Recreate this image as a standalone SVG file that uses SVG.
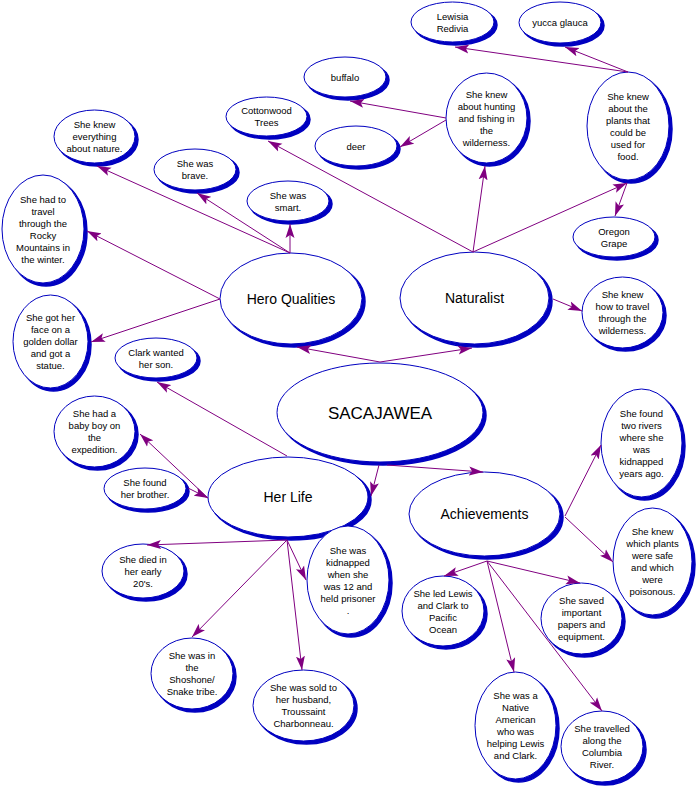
<svg xmlns="http://www.w3.org/2000/svg" width="700" height="787" viewBox="0 0 700 787">
<defs>
<style>
.sh{fill:#0000c0;stroke:#0000c0;stroke-width:1.5}
.nd{fill:#fff;stroke:#0000c0;stroke-width:1}
text{font-family:"Liberation Sans",Arial,sans-serif;font-size:9.5px;text-anchor:middle;fill:#000}
.b{font-size:14px}
.m{font-size:17px}
.c line{stroke:#800080;stroke-width:1;marker-end:url(#ah)}
</style>
<marker id="ah" markerUnits="userSpaceOnUse" markerWidth="14" markerHeight="10" viewBox="0 0 14 10" refX="14" refY="5" orient="auto">
<path d="M14,5 L0,0.5 L3,5 L0,9.5 Z" fill="#800080"/>
</marker>
</defs>
<rect width="700" height="787" fill="#fff"/>

<g id="n-nature"><ellipse class="sh" cx="97.5" cy="139.5" rx="40.5" ry="26.5"/><ellipse class="nd" cx="94.5" cy="136.5" rx="40.5" ry="26.5"/><text x="94.5" y="128">She knew</text><text x="94.5" y="140">everything</text><text x="94.5" y="152">about nature.</text></g>
<g id="n-brave"><ellipse class="sh" cx="198" cy="172.5" rx="41" ry="20.5"/><ellipse class="nd" cx="195" cy="169.5" rx="41" ry="20.5"/><text x="195" y="167">She was</text><text x="195" y="179">brave.</text></g>
<g id="n-smart"><ellipse class="sh" cx="291" cy="204" rx="41" ry="20"/><ellipse class="nd" cx="288" cy="201" rx="41" ry="20"/><text x="288" y="198.5">She was</text><text x="288" y="210.5">smart.</text></g>
<g id="n-cottonwood"><ellipse class="sh" cx="269.5" cy="119.5" rx="40.5" ry="19.5"/><ellipse class="nd" cx="266.5" cy="116.5" rx="40.5" ry="19.5"/><text x="266.5" y="114">Cottonwood</text><text x="266.5" y="126">Trees</text></g>
<g id="n-buffalo"><ellipse class="sh" cx="348" cy="80" rx="41" ry="20"/><ellipse class="nd" cx="345" cy="77" rx="41" ry="20"/><text x="345" y="80.5">buffalo</text></g>
<g id="n-deer"><ellipse class="sh" cx="359" cy="149" rx="41" ry="20"/><ellipse class="nd" cx="356" cy="146" rx="41" ry="20"/><text x="356" y="149.5">deer</text></g>
<g id="n-rocky"><ellipse class="sh" cx="46" cy="232" rx="41" ry="54"/><ellipse class="nd" cx="43" cy="229" rx="41" ry="54"/><text x="43" y="202.5">She had to</text><text x="43" y="214.5">travel</text><text x="43" y="226.5">through the</text><text x="43" y="238.5">Rocky</text><text x="43" y="250.5">Mountains in</text><text x="43" y="262.5">the winter.</text></g>
<g id="n-lewisia"><ellipse class="sh" cx="455.5" cy="25" rx="41.5" ry="20"/><ellipse class="nd" cx="452.5" cy="22" rx="41.5" ry="20"/><text x="452.5" y="19.5">Lewisia</text><text x="452.5" y="31.5">Redivia</text></g>
<g id="n-yucca"><ellipse class="sh" cx="563" cy="25.5" rx="41" ry="20.5"/><ellipse class="nd" cx="560" cy="22.5" rx="41" ry="20.5"/><text x="560" y="26">yucca glauca</text></g>
<g id="n-hunting"><ellipse class="sh" cx="489.5" cy="121" rx="40.5" ry="45"/><ellipse class="nd" cx="486.5" cy="118" rx="40.5" ry="45"/><text x="486.5" y="97.5">She knew</text><text x="486.5" y="109.5">about hunting</text><text x="486.5" y="121.5">and fishing in</text><text x="486.5" y="133.5">the</text><text x="486.5" y="145.5">wilderness.</text></g>
<g id="n-plants"><ellipse class="sh" cx="631" cy="129" rx="41" ry="54"/><ellipse class="nd" cx="628" cy="126" rx="41" ry="54"/><text x="628" y="99.5">She knew</text><text x="628" y="111.5">about the</text><text x="628" y="123.5">plants that</text><text x="628" y="135.5">could be</text><text x="628" y="147.5">used for</text><text x="628" y="159.5">food.</text></g>
<g id="n-oregon"><ellipse class="sh" cx="617" cy="240" rx="41" ry="20"/><ellipse class="nd" cx="614" cy="237" rx="41" ry="20"/><text x="614" y="234.5">Oregon</text><text x="614" y="246.5">Grape</text></g>
<g id="n-hero"><ellipse class="sh" cx="294" cy="301.5" rx="71" ry="45.5"/><ellipse class="nd" cx="291" cy="298.5" rx="71" ry="45.5"/><text class="b" x="291" y="303.5">Hero Qualities</text></g>
<g id="n-naturalist"><ellipse class="sh" cx="477.5" cy="301" rx="74.5" ry="46"/><ellipse class="nd" cx="474.5" cy="298" rx="74.5" ry="46"/><text class="b" x="474.5" y="303">Naturalist</text></g>
<g id="n-howtravel"><ellipse class="sh" cx="625.5" cy="315.5" rx="40.5" ry="35.5"/><ellipse class="nd" cx="622.5" cy="312.5" rx="40.5" ry="35.5"/><text x="622.5" y="298">She knew</text><text x="622.5" y="310">how to travel</text><text x="622.5" y="322">through the</text><text x="622.5" y="334">wilderness.</text></g>
<g id="n-golden"><ellipse class="sh" cx="53.5" cy="344.5" rx="37.5" ry="46.5"/><ellipse class="nd" cx="50.5" cy="341.5" rx="37.5" ry="46.5"/><text x="50.5" y="321">She got her</text><text x="50.5" y="333">face on a</text><text x="50.5" y="345">golden dollar</text><text x="50.5" y="357">and got a</text><text x="50.5" y="369">statue.</text></g>
<g id="n-clark"><ellipse class="sh" cx="159" cy="361" rx="41" ry="20"/><ellipse class="nd" cx="156" cy="358" rx="41" ry="20"/><text x="156" y="355.5">Clark wanted</text><text x="156" y="367.5">her son.</text></g>
<g id="n-sacajawea"><ellipse class="sh" cx="383" cy="415.5" rx="103" ry="49.5"/><ellipse class="nd" cx="380" cy="412.5" rx="103" ry="49.5"/><text class="m" x="380" y="418.5">SACAJAWEA</text></g>
<g id="n-baby"><ellipse class="sh" cx="97.5" cy="434.5" rx="40.5" ry="35.5"/><ellipse class="nd" cx="94.5" cy="431.5" rx="40.5" ry="35.5"/><text x="94.5" y="417">She had a</text><text x="94.5" y="429">baby boy on</text><text x="94.5" y="441">the</text><text x="94.5" y="453">expedition.</text></g>
<g id="n-brother"><ellipse class="sh" cx="148" cy="491.5" rx="41" ry="20.5"/><ellipse class="nd" cx="145" cy="488.5" rx="41" ry="20.5"/><text x="145" y="486">She found</text><text x="145" y="498">her brother.</text></g>
<g id="n-herlife"><ellipse class="sh" cx="291" cy="500" rx="80" ry="40"/><ellipse class="nd" cx="288" cy="497" rx="80" ry="40"/><text class="b" x="288" y="502">Her Life</text></g>
<g id="n-achievements"><ellipse class="sh" cx="487.5" cy="517" rx="75.5" ry="42"/><ellipse class="nd" cx="484.5" cy="514" rx="75.5" ry="42"/><text class="b" x="484.5" y="519">Achievements</text></g>
<g id="n-tworivers"><ellipse class="sh" cx="644.5" cy="446" rx="40.5" ry="54"/><ellipse class="nd" cx="641.5" cy="443" rx="40.5" ry="54"/><text x="641.5" y="416.5">She found</text><text x="641.5" y="428.5">two rivers</text><text x="641.5" y="440.5">where she</text><text x="641.5" y="452.5">was</text><text x="641.5" y="464.5">kidnapped</text><text x="641.5" y="476.5">years ago.</text></g>
<g id="n-whichplants"><ellipse class="sh" cx="655.5" cy="564.5" rx="39.5" ry="53.5"/><ellipse class="nd" cx="652.5" cy="561.5" rx="39.5" ry="53.5"/><text x="652.5" y="535">She knew</text><text x="652.5" y="547">which plants</text><text x="652.5" y="559">were safe</text><text x="652.5" y="571">and which</text><text x="652.5" y="583">were</text><text x="652.5" y="595">poisonous.</text></g>
<g id="n-died"><ellipse class="sh" cx="146" cy="574" rx="41" ry="27"/><ellipse class="nd" cx="143" cy="571" rx="41" ry="27"/><text x="143" y="562.5">She died in</text><text x="143" y="574.5">her early</text><text x="143" y="586.5">20's.</text></g>
<g id="n-kidnapped"><ellipse class="sh" cx="351" cy="583" rx="41" ry="54"/><ellipse class="nd" cx="348" cy="580" rx="41" ry="54"/><text x="348" y="553.5">She was</text><text x="348" y="565.5">kidnapped</text><text x="348" y="577.5">when she</text><text x="348" y="589.5">was 12 and</text><text x="348" y="601.5">held prisoner</text><text x="348" y="613.5">.</text></g>
<g id="n-shoshone"><ellipse class="sh" cx="195" cy="676.5" rx="41" ry="35.5"/><ellipse class="nd" cx="192" cy="673.5" rx="41" ry="35.5"/><text x="192" y="659">She was in</text><text x="192" y="671">the</text><text x="192" y="683">Shoshone/</text><text x="192" y="695">Snake tribe.</text></g>
<g id="n-sold"><ellipse class="sh" cx="306.5" cy="708.5" rx="50.5" ry="35.5"/><ellipse class="nd" cx="303.5" cy="705.5" rx="50.5" ry="35.5"/><text x="303.5" y="691">She was sold to</text><text x="303.5" y="703">her husband,</text><text x="303.5" y="715">Troussaint</text><text x="303.5" y="727">Charbonneau.</text></g>
<g id="n-led"><ellipse class="sh" cx="446" cy="614" rx="41" ry="35"/><ellipse class="nd" cx="443" cy="611" rx="41" ry="35"/><text x="443" y="596.5">She led Lewis</text><text x="443" y="608.5">and Clark to</text><text x="443" y="620.5">Pacific</text><text x="443" y="632.5">Ocean</text></g>
<g id="n-saved"><ellipse class="sh" cx="584.5" cy="621.5" rx="40.5" ry="35.5"/><ellipse class="nd" cx="581.5" cy="618.5" rx="40.5" ry="35.5"/><text x="581.5" y="604">She saved</text><text x="581.5" y="616">important</text><text x="581.5" y="628">papers and</text><text x="581.5" y="640">equipment.</text></g>
<g id="n-native"><ellipse class="sh" cx="518.5" cy="728.5" rx="40.5" ry="53.5"/><ellipse class="nd" cx="515.5" cy="725.5" rx="40.5" ry="53.5"/><text x="515.5" y="698.5">She was a</text><text x="515.5" y="710.5">Native</text><text x="515.5" y="722.5">American</text><text x="515.5" y="734.5">who was</text><text x="515.5" y="746.5">helping Lewis</text><text x="515.5" y="758.5">and Clark.</text></g>
<g id="n-columbia"><ellipse class="sh" cx="605" cy="749.5" rx="41" ry="35.5"/><ellipse class="nd" cx="602" cy="746.5" rx="41" ry="35.5"/><text x="602" y="732">She travelled</text><text x="602" y="744">along the</text><text x="602" y="756">Columbia</text><text x="602" y="768">River.</text></g>

<g id="connectors" class="c">
<line x1="290" y1="253" x2="290" y2="224"/>
<line x1="290" y1="253" x2="197" y2="193"/>
<line x1="290" y1="253" x2="97" y2="166"/>
<line x1="220" y1="299" x2="87" y2="231"/>
<line x1="220" y1="299" x2="91" y2="342"/>
<line x1="473" y1="252" x2="268" y2="141"/>
<line x1="473" y1="252" x2="485" y2="166"/>
<line x1="473" y1="252" x2="627" y2="183"/>
<line x1="446" y1="118" x2="350" y2="101"/>
<line x1="446" y1="120" x2="400" y2="147"/>
<line x1="628" y1="72" x2="455" y2="47"/>
<line x1="628" y1="72" x2="565" y2="47"/>
<line x1="627" y1="183" x2="615" y2="216"/>
<line x1="553" y1="299" x2="582" y2="311"/>
<line x1="380" y1="362" x2="297" y2="347"/>
<line x1="380" y1="362" x2="472" y2="348"/>
<line x1="379" y1="465" x2="371" y2="496"/>
<line x1="387" y1="465" x2="483" y2="472"/>
<line x1="287" y1="456" x2="157" y2="382"/>
<line x1="208" y1="498" x2="140" y2="434"/>
<line x1="188" y1="488" x2="208" y2="498"/>
<line x1="287" y1="540" x2="147" y2="545"/>
<line x1="287" y1="540" x2="192" y2="637"/>
<line x1="287" y1="540" x2="302" y2="670"/>
<line x1="287" y1="540" x2="306" y2="580"/>
<line x1="487" y1="561" x2="444" y2="576"/>
<line x1="487" y1="561" x2="580" y2="583"/>
<line x1="487" y1="561" x2="514" y2="672"/>
<line x1="487" y1="561" x2="602" y2="711"/>
<line x1="565" y1="516" x2="601" y2="445"/>
<line x1="565" y1="517" x2="613" y2="562"/>
</g>
</svg>
